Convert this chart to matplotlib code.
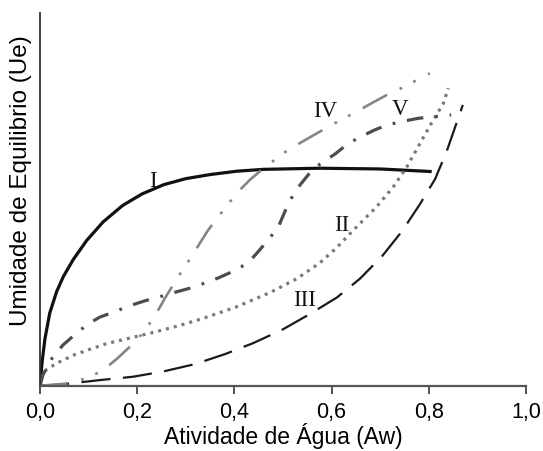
import matplotlib
matplotlib.use('Agg')
import matplotlib.pyplot as plt

plt.rcParams['font.family'] = ['Liberation Sans', 'DejaVu Sans']
plt.rcParams['lines.scale_dashes'] = False

# Isotherm shapes (water activity vs equilibrium moisture, arbitrary units)
aw_I = [0, 0.004, 0.010, 0.020, 0.034, 0.048, 0.068, 0.096, 0.130, 0.170, 0.210,
        0.255, 0.300, 0.350, 0.405, 0.460, 0.576, 0.700, 0.806]
ue_I = [0, 0.060, 0.125, 0.195, 0.252, 0.293, 0.338, 0.390, 0.440, 0.484, 0.515,
        0.540, 0.556, 0.567, 0.576, 0.581, 0.584, 0.582, 0.575]

aw_II = [0, 0.007, 0.034, 0.069, 0.103, 0.137, 0.185, 0.233, 0.288, 0.336, 0.405,
         0.473, 0.528, 0.576, 0.610, 0.645, 0.693, 0.727, 0.755, 0.782, 0.809, 0.830, 0.840]
ue_II = [0, 0.038, 0.060, 0.082, 0.098, 0.113, 0.128, 0.143, 0.162, 0.181, 0.212,
         0.250, 0.287, 0.330, 0.370, 0.418, 0.481, 0.534, 0.588, 0.651, 0.713, 0.758, 0.799]

aw_III = [0, 0.041, 0.123, 0.191, 0.253, 0.319, 0.381, 0.438, 0.498, 0.556, 0.611,
          0.658, 0.704, 0.745, 0.782, 0.813, 0.837, 0.870]
ue_III = [0, 0.003, 0.015, 0.024, 0.038, 0.058, 0.085, 0.114, 0.150, 0.193, 0.237,
          0.287, 0.348, 0.415, 0.488, 0.555, 0.630, 0.754]

aw_IV = [0, 0.051, 0.099, 0.130, 0.158, 0.200, 0.222, 0.241, 0.257, 0.288, 0.311,
         0.329, 0.346, 0.387, 0.407, 0.432, 0.459, 0.510, 0.570, 0.597, 0.654, 0.683,
         0.714, 0.745, 0.802]
ue_IV = [0, 0.005, 0.021, 0.042, 0.072, 0.123, 0.160, 0.198, 0.235, 0.300, 0.345,
         0.383, 0.418, 0.488, 0.520, 0.553, 0.583, 0.633, 0.678, 0.698, 0.738, 0.759,
         0.781, 0.800, 0.839]

aw_V = [0, 0.006, 0.025, 0.047, 0.076, 0.099, 0.123, 0.158, 0.185, 0.216, 0.247,
        0.278, 0.309, 0.340, 0.368, 0.397, 0.415, 0.433, 0.449, 0.469, 0.490, 0.502, 0.514,
        0.535, 0.553, 0.576, 0.607, 0.628, 0.654, 0.689, 0.714, 0.747, 0.778, 0.846]
ue_V = [0, 0.029, 0.074, 0.109, 0.142, 0.166, 0.184, 0.201, 0.215, 0.228, 0.239,
        0.251, 0.262, 0.276, 0.290, 0.307, 0.320, 0.337, 0.360, 0.391, 0.425, 0.462, 0.497,
        0.539, 0.568, 0.595, 0.622, 0.644, 0.665, 0.687, 0.700, 0.710, 0.718, 0.727]

xticks = [0.0, 0.2, 0.4, 0.6, 0.8, 1.0]
xtick_labels = ['0,0', '0,2', '0,4', '0,6', '0,8', '1,0']

fig = plt.figure(figsize=(5.43, 4.51), dpi=100)
ax = fig.add_axes([0.0737, 0.1448, 0.895, 0.8257])

ax.plot(aw_I, ue_I, color='#111111', lw=2.3, solid_capstyle='butt')
ax.plot(aw_II, ue_II, color='#7a7a7a', lw=2.3, dashes=(2.2, 3.6))
ax.plot(aw_III, ue_III, color='#1a1a1a', lw=1.6, dashes=(21, 9))
ax.plot(aw_IV, ue_IV, color='#858585', lw=1.9, dashes=(20, 10, 2, 9, 2, 10))
ax.plot(aw_V, ue_V, color='#4d4d4d', lw=2.3, dashes=(12, 8.5, 2, 8.5))

# roman numerals naming each isotherm type
serif = ['Liberation Serif', 'DejaVu Serif']
for label, x, y in [('I', 0.232, 0.549), ('II', 0.621, 0.430), ('III', 0.545, 0.230),
                    ('IV', 0.586, 0.736), ('V', 0.741, 0.741)]:
    ax.text(x, y, label, family=serif, fontsize=16.5, ha='center', va='center', color='#111111')

ax.set_xlim(0, 1)
ax.set_ylim(0, 1)
ax.set_xticks(xticks)
ax.set_xticklabels(xtick_labels, fontsize=15.5)
ax.set_yticks([])
ax.tick_params(axis='x', direction='out', length=6, width=1.2, color='#333333', pad=6)

for side in ['top', 'right']:
    ax.spines[side].set_visible(False)
ax.spines['left'].set_color('#333333')
ax.spines['left'].set_linewidth(1.3)
ax.spines['bottom'].set_color('#555555')
ax.spines['bottom'].set_linewidth(1.6)

ax.set_xlabel('Atividade de Água (Aw)', fontsize=16.5, labelpad=0)
ax.set_ylabel('Umidade de Equilibrio (Ue)', fontsize=17.5)
ax.yaxis.set_label_coords(-0.016, 0.552)

fig.savefig('out.png', dpi=100)
